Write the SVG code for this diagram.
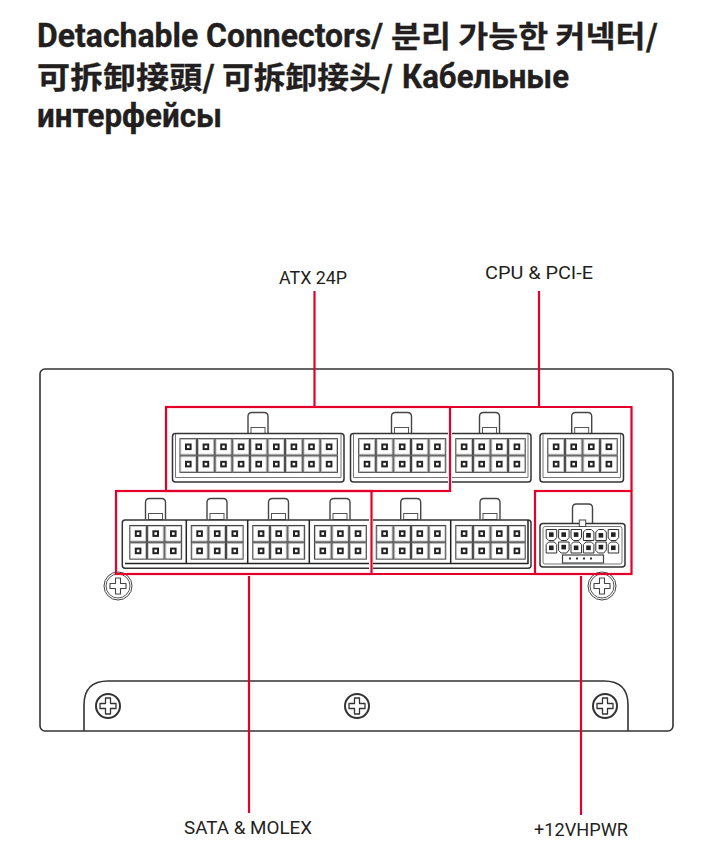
<svg xmlns="http://www.w3.org/2000/svg" width="704" height="858" viewBox="0 0 704 858">
<style>
.t{font-family:"Roboto","Noto Sans CJK KR",sans-serif;font-weight:700;font-size:32.5px;fill:#231f20;stroke:#231f20;stroke-width:0.35px}
.kr{font-family:"Noto Sans CJK KR",sans-serif;font-weight:700;font-size:30px;fill:#231f20;stroke:#231f20;stroke-width:0.3px}
.tc{font-family:"Noto Sans CJK TC",sans-serif;font-weight:700;font-size:30px;fill:#231f20;stroke:#231f20;stroke-width:0.3px}
.sc{font-family:"Noto Sans CJK SC",sans-serif;font-weight:700;font-size:30px;fill:#231f20;stroke:#231f20;stroke-width:0.3px}
.l{font-family:"Roboto",sans-serif;font-size:19px;fill:#231f20}
.o{fill:none;stroke:#333;stroke-width:1.5}
.i{fill:none;stroke:#777;stroke-width:1}
.d{fill:none;stroke:#222;stroke-width:1.5}
.r{fill:none;stroke:#e4002b;stroke-width:2.2}
</style>
<defs>
<g id="cell"><rect x="0.5" y="0.5" width="16.6" height="16.3" fill="#fff" stroke="#444" stroke-width="1.1"/><rect x="1.4" y="1.4" width="14.8" height="14.5" fill="none" stroke="#bbb" stroke-width="0.7"/><rect x="6.5" y="6.300" width="4.600" height="4.600" fill="#fff" stroke="#222" stroke-width="2"/></g>
<g id="col"><use href="#cell"/><use href="#cell" y="17.3"/></g>
<g id="tab"><path d="M0,21V4Q0,0 4,0H16Q20,0 20,4V21" fill="#fff" stroke="#444" stroke-width="1.4"/><rect x="3" y="15" width="14" height="6" fill="#fff" stroke="#555" stroke-width="1"/></g>
<g id="cellA"><path d="M0.5,0.5H11V8.5L8.5,11.5H3L0.5,9Z" fill="#fff" stroke="#333" stroke-width="1"/><rect x="3.3" y="3.3" width="4.6" height="4.6" fill="#222"/></g>
<g id="cellB"><path d="M3,0.5H8.5L11,3V11.5H0.5V3Z" fill="#fff" stroke="#333" stroke-width="1"/><rect x="3.3" y="4" width="4.6" height="4.6" fill="#222"/></g>
<g id="screw"><circle r="12" fill="#fff" stroke="#333" stroke-width="2"/><path d="M-2.5,-8H2.5V-2.5H8V2.5H2.5V8H-2.5V2.5H-8V-2.5H-2.5Z" fill="#fff" stroke="#333" stroke-width="1.3" stroke-linejoin="round"/></g>
<g id="screw2"><circle r="14" fill="#fff" stroke="#444" stroke-width="1"/><circle r="12" fill="#fff" stroke="#555" stroke-width="1"/><path d="M-2.5,-8H2.5V-2.5H8V2.5H2.500V8H-2.500V2.500H-8V-2.500H-2.500Z" fill="#fff" stroke="#444" stroke-width="1.100" stroke-linejoin="round"/></g>
</defs>

<g id="title">
<text class="t" x="37" y="47" textLength="346" lengthAdjust="spacingAndGlyphs">Detachable Connectors/</text>
<text class="kr" x="391" y="47" textLength="267" lengthAdjust="spacingAndGlyphs">분리 가능한 커넥터/</text>
<text class="tc" x="37" y="88" textLength="178" lengthAdjust="spacingAndGlyphs">可拆卸接頭/</text>
<text class="sc" x="222" y="88" textLength="171" lengthAdjust="spacingAndGlyphs">可拆卸接头/</text>
<text class="t" x="402" y="88" textLength="167" lengthAdjust="spacingAndGlyphs">Кабельные</text>
<text class="t" x="37" y="127" textLength="185" lengthAdjust="spacingAndGlyphs">интерфейсы</text>
</g>

<g id="psu-case">
<rect x="40" y="369" width="633" height="362" rx="5" fill="#fff" stroke="#333" stroke-width="1.6"/>
<path d="M84,731V705Q84,681 108,681H604Q628,681 628,705V731" fill="none" stroke="#333" stroke-width="1.6"/>
</g>
<g id="screws">
<use href="#screw" x="108" y="706"/>
<use href="#screw" x="357" y="706"/>
<use href="#screw" x="605" y="706"/>
<use href="#screw2" x="118" y="586"/>
<use href="#screw2" x="602" y="586"/>
</g>

<g id="atx-20">
<use href="#tab" x="248" y="412.5"/>
<rect class="o" x="172.5" y="433.5" width="171.5" height="48.5" rx="3" style="fill:#fff"/>
<path class="i" d="M175.5,434V477.5H341V434"/>
<use href="#col" x="179.5" y="438.2"/><use href="#col" x="197.1" y="438.2"/><use href="#col" x="214.7" y="438.2"/><use href="#col" x="232.3" y="438.2"/><use href="#col" x="249.9" y="438.2"/><use href="#col" x="267.5" y="438.2"/><use href="#col" x="285.1" y="438.2"/><use href="#col" x="302.7" y="438.2"/><use href="#col" x="320.3" y="438.2"/>
</g>
<g id="atx-10">
<use href="#tab" x="391.5" y="412.5"/>
<path class="o" d="M448,433.5H353.5Q350.5,433.5 350.5,436.5V479Q350.5,482 353.5,482H448"/>
<path class="i" d="M353.5,434V477.5H448"/>
<use href="#col" x="358.2" y="438.2"/><use href="#col" x="375.8" y="438.2"/><use href="#col" x="393.4" y="438.2"/><use href="#col" x="411" y="438.2"/><use href="#col" x="428.6" y="438.2"/>
</g>
<g id="cpu-1">
<use href="#tab" x="479.5" y="412.5"/>
<path class="o" d="M452,433.5H528Q531,433.5 531,436.5V479Q531,482 528,482H452"/>
<path class="i" d="M452,477.5H528V434"/>
<use href="#col" x="455.3" y="438.2"/><use href="#col" x="472.9" y="438.2"/><use href="#col" x="490.5" y="438.2"/><use href="#col" x="508.1" y="438.2"/>
</g>
<g id="cpu-2">
<use href="#tab" x="571.7" y="412.5"/>
<rect class="o" x="540" y="433.5" width="83.5" height="48.5" rx="3"/>
<path class="i" d="M543,434V477.5H620.5V434"/>
<use href="#col" x="547.3" y="438.2"/><use href="#col" x="564.9" y="438.2"/><use href="#col" x="582.5" y="438.2"/><use href="#col" x="600.1" y="438.2"/>
</g>

<g id="sata-molex-1">
<use href="#tab" x="145.5" y="498.5"/><use href="#tab" x="207" y="498.5"/><use href="#tab" x="268.5" y="498.5"/><use href="#tab" x="330" y="498.5"/>
<path class="o" d="M369,520H125Q122.300,520 122.300,523V565.300Q122.300,568.300 125,568.300H369"/>
<path class="d" d="M125,563.500H369M186.300,520V563.500M247.700,520V563.500M309.300,520V563.500"/>
<use href="#col" x="129.3" y="525"/><use href="#col" x="146.900" y="525"/><use href="#col" x="164.500" y="525"/>
<use href="#col" x="190.800" y="525"/><use href="#col" x="208.400" y="525"/><use href="#col" x="226" y="525"/>
<use href="#col" x="252.300" y="525"/><use href="#col" x="269.900" y="525"/><use href="#col" x="287.500" y="525"/>
<use href="#col" x="314" y="525"/><use href="#col" x="331.600" y="525"/><use href="#col" x="349.200" y="525"/>
</g>
<g id="sata-molex-2">
<use href="#tab" x="400.700" y="498.500"/><use href="#tab" x="480" y="498.500"/>
<path class="o" d="M373,520H528Q531,520 531,523V565.300Q531,568.300 528,568.300H373"/>
<path class="d" d="M373,563.500H528V520M450.700,520V563.500"/>
<use href="#col" x="375.800" y="525"/><use href="#col" x="393.400" y="525"/><use href="#col" x="411" y="525"/><use href="#col" x="428.600" y="525"/>
<use href="#col" x="455.300" y="525"/><use href="#col" x="472.900" y="525"/><use href="#col" x="490.500" y="525"/><use href="#col" x="508.100" y="525"/>
</g>
<g id="vhpwr">
<path d="M572.500,524V508Q572.500,504 576.500,504H588.500Q592.500,504 592.500,508V524" fill="#fff" stroke="#444" stroke-width="1.4"/>
<rect class="o" x="540" y="523.500" width="85" height="43.500" rx="3"/>
<rect class="i" x="543" y="526.500" width="79" height="37.500" rx="2"/>
<rect x="579.300" y="520" width="6.400" height="6.500" fill="#fff" stroke="#444" stroke-width="1"/>
<use href="#cellA" x="545.700" y="529"/><use href="#cellA" x="558.100" y="529"/><use href="#cellA" x="570.500" y="529"/><use href="#cellB" x="582.900" y="529"/><use href="#cellB" x="595.300" y="529"/><use href="#cellA" x="607.700" y="529"/>
<use href="#cellB" x="545.700" y="541.500"/><use href="#cellA" x="558.100" y="541.500"/><use href="#cellB" x="570.500" y="541.500"/><use href="#cellB" x="582.900" y="541.500"/><use href="#cellA" x="595.300" y="541.500"/><use href="#cellB" x="607.700" y="541.500"/>
<rect x="562.500" y="555" width="41" height="8" fill="#fff" stroke="#444" stroke-width="1.200"/>
<path d="M569,557.500h2v2h-2zM576,557.500h2v2h-2zM583,557.500h2v2h-2zM590,557.500h2v2h-2z" fill="#333"/>
</g>

<g id="connectors">
<rect class="r" x="166" y="407" width="284" height="84"/>
<path class="r" d="M450,407H631.500V491"/>
<rect class="r" x="116" y="491" width="255.500" height="83"/>
<path class="r" d="M371.500,574H535"/>
<rect class="r" x="535" y="491" width="96.500" height="83"/>
<path class="r" d="M314.500,291V407M539,291V407M249,576V813M581,576V815"/>
</g>

<g id="labels">
<text class="l" x="279" y="284" textLength="68" lengthAdjust="spacingAndGlyphs">ATX 24P</text>
<text class="l" x="485" y="279" textLength="108" lengthAdjust="spacingAndGlyphs">CPU &amp; PCI-E</text>
<text class="l" x="184" y="834" textLength="128" lengthAdjust="spacingAndGlyphs">SATA &amp; MOLEX</text>
<text class="l" x="534" y="836" textLength="94" lengthAdjust="spacingAndGlyphs">+12VHPWR</text>
</g>
</svg>
